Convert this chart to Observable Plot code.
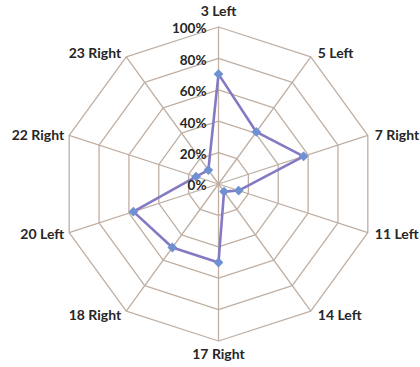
<!DOCTYPE html>
<html>
<head>
<meta charset="utf-8">
<script src="https://cdn.jsdelivr.net/npm/d3@7"></script>
<script src="https://cdn.jsdelivr.net/npm/@observablehq/plot@0.6"></script>
<style>
  html, body { margin: 0; padding: 0; background: #fff; }
  #chart svg { display: block; }
</style>
</head>
<body>
<div id="chart"></div>
<script>
const categories = ["3 Left", "5 Left", "7 Right", "11 Left", "14 Left", "17 Right", "18 Right", "20 Left", "22 Right", "23 Right"];
const values = [0.70, 0.41, 0.57, 0.135, 0.06, 0.50, 0.50, 0.57, 0.15, 0.11];
const tickLevels = [0, 0.2, 0.4, 0.6, 0.8, 1.0];
const tickLabels = ["0%", "20%", "40%", "60%", "80%", "100%"];

const W = 420, H = 367, CX = 218, CY = 183.5, R = 157;
const n = categories.length;
const ang = i => (i * 2 * Math.PI) / n;
const px = (i, r) => r * Math.sin(ang(i));
const py = (i, r) => r * Math.cos(ang(i));

// grid rings
const rings = [];
tickLevels.slice(1).forEach(lv => {
  for (let i = 0; i <= n; i++) rings.push({ lv, x: px(i % n, lv), y: py(i % n, lv) });
});
// spokes
const spokes = categories.map((c, i) => ({ x1: 0, y1: 0, x2: px(i, 1), y2: py(i, 1) }));
// series
const series = categories.map((c, i) => ({ c, v: values[i], x: px(i, values[i]), y: py(i, values[i]) }));
const seriesClosed = [...series, series[0]];
// category labels
const labelData = categories.map((c, i) => {
  const s = Math.sin(ang(i)), co = Math.cos(ang(i));
  let anchor = "middle", dx = 0, dy = 0;
  if (s > 0.1) { anchor = "start"; dx = 7; } else if (s < -0.1) { anchor = "end"; dx = -5; }
  if (Math.abs(s) < 0.1) dy = co > 0 ? -15 : 14;
  else if (co > 0.5) dy = -3;
  else if (co < -0.5) dy = 4;
  else dy = co > 0 ? 0 : 2;
  return { c, x: px(i, 1), y: py(i, 1), anchor, dx, dy };
});
const ticks = tickLevels.map((lv, i) => ({ t: tickLabels[i], x: 0, y: lv }));

const font = "Lato, 'Open Sans', sans-serif";
const labelMarks = labelData.map(d =>
  Plot.text([d], { x: "x", y: "y", text: "c", textAnchor: d.anchor, dx: d.dx, dy: d.dy, fontSize: 14, fontWeight: "bold", fill: "#262626" })
);
const plot = Plot.plot({
  width: W, height: H,
  margin: 0,
  style: { fontFamily: font, background: "#fff" },
  x: { domain: [-CX / R, (W - CX) / R], axis: null },
  y: { domain: [-(H - CY) / R, CY / R], axis: null },
  marks: [
    Plot.line(rings, { x: "x", y: "y", z: "lv", stroke: "#bfafa3", strokeWidth: 1.3 }),
    Plot.link(spokes, { x1: "x1", y1: "y1", x2: "x2", y2: "y2", stroke: "#bfafa3", strokeWidth: 1.3 }),
    Plot.line(seriesClosed, { x: "x", y: "y", stroke: "#8479c3", strokeWidth: 2.6 }),
    Plot.dot(series, { x: "x", y: "y", symbol: "square", rotate: 45, fill: "#6f91d3", r: 3.9 }),
    Plot.text(ticks, { x: "x", y: "y", text: "t", textAnchor: "end", dx: -12, dy: 2, fontSize: 13.5, fontWeight: "bold", fill: "#262626" }),
    ...labelMarks
  ]
});
document.getElementById("chart").appendChild(plot);
</script>
</body>
</html>
